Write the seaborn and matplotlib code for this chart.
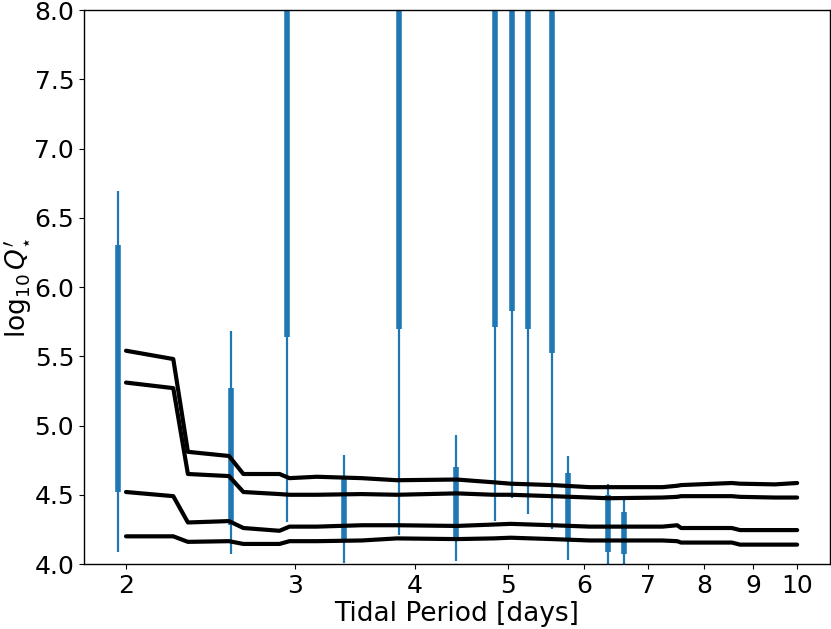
import numpy as np
import pandas as pd
import matplotlib
matplotlib.use("Agg")
import matplotlib.pyplot as plt
import seaborn as sns

# tidal period grid of the model curves [days]
period = [2.0, 2.24, 2.32, 2.56, 2.65, 2.89, 2.96, 3.16, 3.52, 3.83, 4.42, 4.83,
          5.03, 5.56, 6.08, 6.35, 7.24, 7.50, 7.57, 8.55, 8.72, 9.48, 10.0]
curve_1 = [5.54, 5.48, 4.81, 4.78, 4.65, 4.65, 4.62, 4.63, 4.62, 4.605, 4.61, 4.59,
           4.58, 4.57, 4.555, 4.555, 4.555, 4.565, 4.57, 4.585, 4.58, 4.575, 4.585]
curve_2 = [5.31, 5.27, 4.65, 4.635, 4.52, 4.505, 4.50, 4.50, 4.505, 4.50, 4.51, 4.50,
           4.50, 4.49, 4.48, 4.475, 4.48, 4.485, 4.49, 4.49, 4.485, 4.48, 4.48]
curve_3 = [4.52, 4.49, 4.30, 4.31, 4.26, 4.24, 4.27, 4.27, 4.28, 4.28, 4.275, 4.285,
           4.29, 4.28, 4.27, 4.27, 4.27, 4.28, 4.26, 4.26, 4.245, 4.245, 4.245]
curve_4 = [4.20, 4.20, 4.16, 4.165, 4.145, 4.145, 4.165, 4.165, 4.17, 4.185, 4.18, 4.185,
           4.19, 4.18, 4.17, 4.17, 4.17, 4.165, 4.155, 4.155, 4.14, 4.14, 4.14]

# constraints from individual systems
sys_period = [1.96, 2.57, 2.94, 3.37, 3.85, 4.41, 4.85, 5.05, 5.24, 5.55, 5.77, 6.35, 6.60]
thin_lo = [4.09, 4.07, 4.30, 4.01, 4.21, 4.02, 4.31, 4.48, 4.36, 4.25, 4.03, 3.90, 3.90]
thin_hi = [6.69, 5.68, 9.00, 4.79, 9.00, 4.93, 9.00, 9.00, 9.00, 9.00, 4.78, 4.58, 4.46]
thick_lo = [4.52, 4.28, 5.64, 4.16, 5.70, 4.18, 5.71, 5.83, 5.70, 5.52, 4.19, 4.09, 4.07]
thick_hi = [6.30, 5.27, 9.00, 4.62, 9.00, 4.70, 9.00, 9.00, 9.00, 9.00, 4.66, 4.50, 4.375]

sns.set_style("ticks")
plt.rcParams['font.family'] = ['DejaVu Sans']
plt.rcParams['mathtext.fontset'] = 'dejavusans'
plt.rcParams['text.color'] = 'black'
plt.rcParams['axes.labelcolor'] = 'black'

curves = pd.DataFrame({
    'P': period * 4,
    'logQ': curve_1 + curve_2 + curve_3 + curve_4,
    'curve': np.repeat([1, 2, 3, 4], len(period)),
})

fig = plt.figure(figsize=(8.31, 6.29), dpi=100)
ax = fig.add_axes([0.101, 0.1033, 0.8978, 0.8808])

ax.vlines(sys_period, thin_lo, thin_hi, color='#1f77b4', lw=1.6, zorder=1)
ax.vlines(sys_period, thick_lo, thick_hi, color='#1f77b4', lw=4, zorder=1)

sns.lineplot(data=curves, x='P', y='logQ', units='curve', estimator=None,
             color='black', lw=3, ax=ax, zorder=2)

ax.set_xscale('log')
ax.set_xlim(1.808, 10.82)
ax.set_ylim(4.0, 8.0)
ticks = [2, 3, 4, 5, 6, 7, 8, 9, 10]
ax.set_xticks(ticks)
ax.set_xticklabels([str(t) for t in ticks])
ax.xaxis.set_minor_locator(matplotlib.ticker.NullLocator())
ax.set_yticks(np.arange(4.0, 8.01, 0.5))
ax.tick_params(labelsize=18, length=3.5, color='black', labelcolor='black')
for s in ax.spines.values():
    s.set_color('black')
    s.set_linewidth(1)

ax.set_xlabel('Tidal Period [days]', fontsize=19, labelpad=2)
ax.set_ylabel(r'$\log_{10}Q^{\prime}_{\star}$', fontsize=19, labelpad=1)

fig.savefig('out.png', dpi=100)
